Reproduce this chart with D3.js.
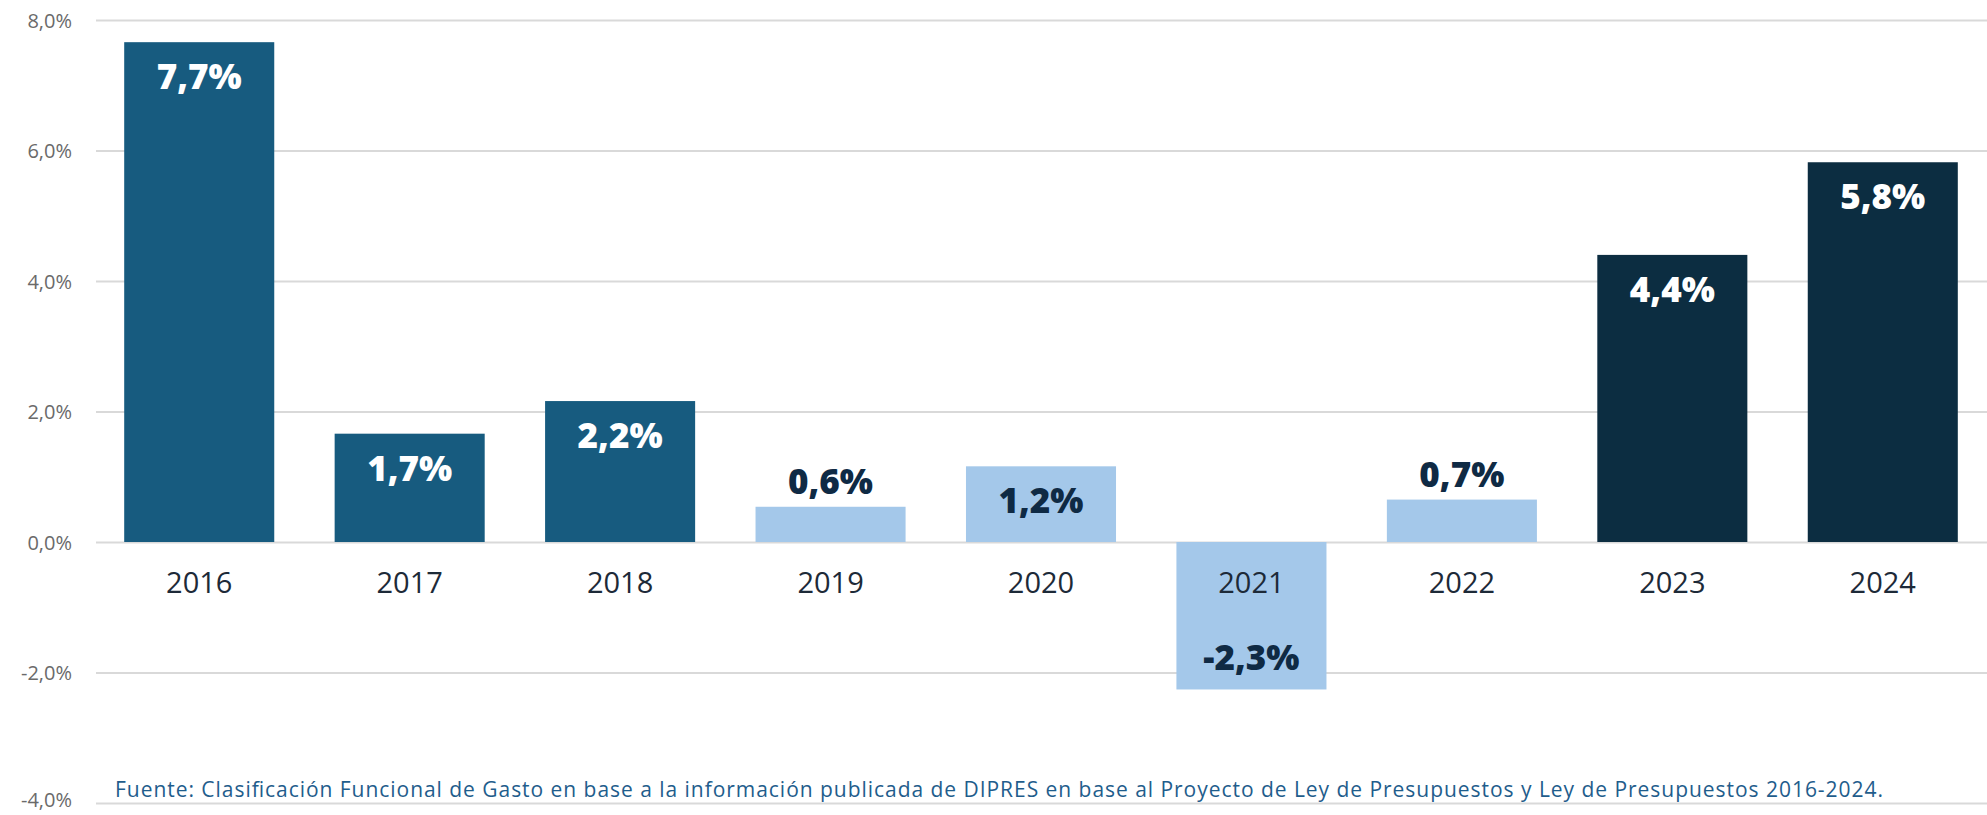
<!DOCTYPE html>
<html>
<head>
<meta charset="utf-8">
<script src="https://cdn.jsdelivr.net/npm/d3@7"></script>
<style>
  html, body { margin: 0; padding: 0; background: #ffffff; }
  svg { display: block; }
</style>
</head>
<body>
<svg id="chart" width="1987" height="815"></svg>
<script>
// ---- data ----
const years = ["2016", "2017", "2018", "2019", "2020", "2021", "2022", "2023", "2024"];
const values = [7.66, 1.66, 2.16, 0.54, 1.16, -2.26, 0.65, 4.40, 5.82];
const valueLabels = ["7,7%", "1,7%", "2,2%", "0,6%", "1,2%", "-2,3%", "0,7%", "4,4%", "5,8%"];
const groups = ["mid", "mid", "mid", "light", "light", "light", "light", "dark", "dark"];
const yTicks = [-4, -2, 0, 2, 4, 6, 8];
const yTickLabels = ["-4,0%", "-2,0%", "0,0%", "2,0%", "4,0%", "6,0%", "8,0%"];
const sourceText = "Fuente: Clasificación Funcional de Gasto en base a la información publicada de DIPRES en base al Proyecto de Ley de Presupuestos y Ley de Presupuestos 2016-2024.";

// ---- styles ----
const fillColor = { mid: "#175b7f", light: "#a4c8ea", dark: "#0c2d41" };
const labelColor = { mid: "#ffffff", light: "#0f2a44", dark: "#ffffff" };
const FONT = "'Open Sans', 'Noto Sans', sans-serif";

const svg = d3.select("#chart");

const y = d3.scaleLinear().domain([-4, 8]).range([803, 20]);
const x = d3.scaleBand().domain(years).range([94, 1988]).paddingInner(0.287).paddingOuter(0.1435);

// gridlines
const yAxis = d3.axisLeft(y).tickValues(yTicks).tickSize(-(1987 - 96)).tickPadding(24)
  .tickFormat((d, i) => yTickLabels[i]);
const gAxis = svg.append("g").attr("transform", "translate(96,0)").call(yAxis);
gAxis.select(".domain").remove();
gAxis.selectAll(".tick line").attr("stroke", "#d9d9d9").attr("stroke-width", 2);
gAxis.selectAll(".tick text")
  .attr("fill", "#6a6a6a")
  .style("font-family", FONT)
  .style("font-size", "20px")
  .attr("dy", d => d === -4 ? "0.15em" : "0.35em");

// bars
svg.append("g").selectAll("rect")
  .data(years)
  .join("rect")
  .attr("x", d => x(d))
  .attr("width", x.bandwidth())
  .attr("y", (d, i) => y(Math.max(0, values[i])))
  .attr("height", (d, i) => Math.abs(y(values[i]) - y(0)))
  .attr("fill", (d, i) => fillColor[groups[i]]);

// year labels
svg.append("g").selectAll("text")
  .data(years)
  .join("text")
  .attr("x", d => x(d) + x.bandwidth() / 2)
  .attr("y", 593)
  .attr("text-anchor", "middle")
  .attr("fill", "#1d2a38")
  .style("font-family", FONT)
  .style("font-size", "29px")
  .text(d => d);

// value labels
svg.append("g").selectAll("text")
  .data(years)
  .join("text")
  .attr("x", d => x(d) + x.bandwidth() / 2)
  .attr("y", (d, i) => {
    const v = values[i];
    if (v < 0) return y(v) - 19;
    const h = y(0) - y(v);
    return h < 60 ? y(v) - 13 : y(v) + 47;
  })
  .attr("text-anchor", "middle")
  .attr("fill", (d, i) => labelColor[groups[i]])
  .style("font-family", FONT)
  .style("font-weight", 800)
  .style("font-size", "35px")
  .text((d, i) => valueLabels[i]);

// source
svg.append("text")
  .attr("x", 115)
  .attr("y", 797)
  .attr("fill", "#1f5d8c")
  .attr("textLength", 1768)
  .attr("lengthAdjust", "spacing")
  .style("font-family", FONT)
  .style("font-size", "21px")
  .text(sourceText);
</script>
</body>
</html>
